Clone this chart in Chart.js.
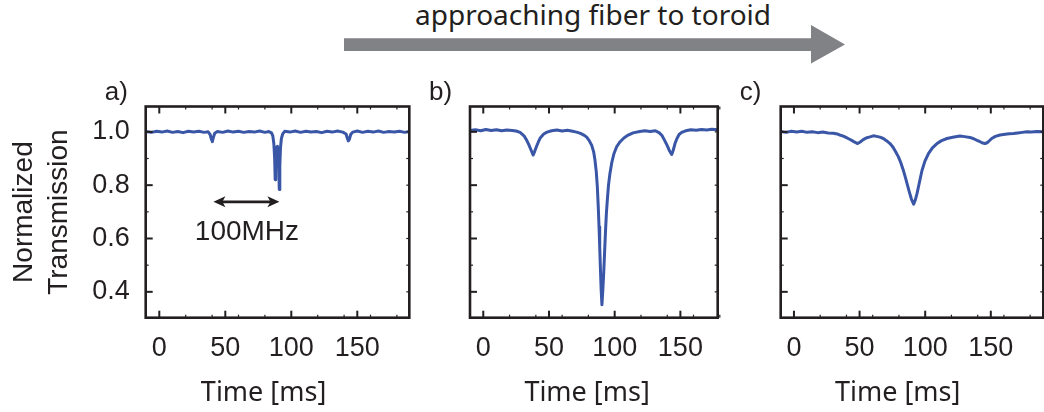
<!DOCTYPE html>
<html>
<head>
<meta charset="utf-8">
<script src="https://cdn.jsdelivr.net/npm/chart.js@4.4.1/dist/chart.umd.min.js"></script>
<style>
  html, body { margin: 0; padding: 0; background: #fff; }
  body { position: relative; width: 1044px; height: 412px; overflow: hidden; }
  canvas { position: absolute; top: 60px; }
  #header { position: absolute; left: 0; top: 0; }
</style>
</head>
<body>
<svg id="header" width="1044" height="70">
  <text x="415" y="25" font-family="Noto Sans" font-size="28" fill="#231f20">approaching fiber to toroid</text>
  <polygon points="344,38.3 811,38.3 811,25 845,44.5 811,63.5 811,51 344,51" fill="#808285"/>
</svg>
<canvas id="panelA" width="420" height="352" style="left:0"></canvas>
<canvas id="panelB" width="315" height="352" style="left:420px"></canvas>
<canvas id="panelC" width="315" height="352" style="left:735px"></canvas>
<script>
"use strict";

// --- data (time in ms, normalized transmission) ---
const timeA = [
  -10.3, -6, -2, 2, 6, 10, 14, 18, 22, 26,
  30, 34, 37, 38.5, 39.5, 40.2, 41, 42, 44, 48,
  52, 56, 60, 64, 68, 72, 76, 80, 83, 85,
  86, 86.8, 87.4, 87.8, 88.2, 88.8, 89.5, 90.2, 90.6, 90.9,
  91.3, 91.8, 92.5, 93.5, 95, 99, 103, 107, 111, 115,
  119, 123, 127, 131, 135, 139, 141.5, 142.5, 143.2, 144,
  145, 146.5, 150, 154, 158, 162, 166, 170, 174, 178,
  182, 186, 189.4
];
const transA = [
  1.001, 0.998, 1.002, 0.999, 1.003, 0.998, 1.001, 0.997, 1.002, 0.999,
  1.002, 0.998, 1.000, 0.990, 0.972, 0.963, 0.980, 0.995, 1.001, 0.998,
  1.003, 0.999, 1.002, 0.998, 1.001, 0.999, 1.003, 0.998, 1.001, 0.996,
  0.985, 0.955, 0.900, 0.820, 0.900, 0.940, 0.946, 0.920, 0.850, 0.784,
  0.870, 0.940, 0.975, 0.992, 1.002, 0.999, 1.003, 0.998, 1.002, 0.999,
  1.001, 0.997, 1.002, 0.999, 1.003, 0.999, 0.992, 0.975, 0.966, 0.972,
  0.990, 0.999, 1.003, 0.998, 1.002, 0.999, 1.003, 0.998, 1.001, 0.999,
  1.002, 0.998, 1.001
];

const timeB = [
  -10.1, -6, -2, 2, 6, 10, 14, 18, 22, 25,
  28, 31, 33, 35, 36.5, 38, 39, 40.5, 42, 43.5,
  46, 48.5, 52, 56, 60, 64, 68, 71, 74, 76.5,
  78.7, 80.5, 82.5, 84, 85, 86, 86.8, 87.5, 88.1, 88.6,
  89.1, 89.7, 90.3, 90.9, 91.6, 92.3, 93.0, 93.7, 94.4, 95.3,
  96.4, 97.8, 99.5, 101.5, 104, 107, 110.3, 114, 119, 123,
  127, 131, 134, 136, 138, 140, 141.8, 143.4, 144.5, 145.9,
  147.5, 149, 151, 154, 158, 162, 166, 170, 174, 178.4
];
const transB = [
  1.005, 1.008, 1.004, 1.009, 1.005, 1.008, 1.004, 1.007, 1.005, 1.003,
  0.998, 0.985, 0.969, 0.948, 0.930, 0.913, 0.925, 0.945, 0.963, 0.978,
  0.992, 0.999, 1.004, 1.007, 1.003, 1.006, 1.002, 0.999, 0.994, 0.988,
  0.980, 0.968, 0.950, 0.925, 0.894, 0.850, 0.794, 0.720, 0.644, 0.570,
  0.494, 0.410, 0.352, 0.400, 0.465, 0.545, 0.625, 0.695, 0.744, 0.800,
  0.844, 0.885, 0.919, 0.944, 0.962, 0.977, 0.988, 0.996, 1.001, 1.004,
  1.001, 1.004, 0.996, 0.986, 0.968, 0.948, 0.928, 0.915, 0.930, 0.956,
  0.976, 0.990, 0.998, 1.004, 1.008, 1.006, 1.009, 1.007, 1.010, 1.008
];

const timeC = [
  -10.1, -6, -2, 2, 6, 10, 14, 18, 22, 26,
  30, 33, 35.5, 37.6, 40, 42, 44, 46, 48.5, 50.5,
  52.8, 55, 57.9, 60.5, 63, 65.5, 68.1, 70.5, 73.2, 75.5,
  77.5, 79.6, 81.5, 83.2, 84.8, 86.5, 88, 89.5, 91.2, 92.5,
  93.8, 95.5, 97.6, 99.8, 102.6, 105.5, 109, 112.5, 116.6, 121,
  126.5, 130, 134.1, 137, 139.5, 141.8, 143.7, 145.6, 147.5, 150.7,
  153.5, 157, 161, 164, 167.2, 170.5, 174, 177.4, 181, 185,
  190
];
const transC = [
  1.001, 0.998, 1.002, 0.999, 1.002, 0.998, 1.000, 0.997, 0.999, 0.996,
  0.995, 0.992, 0.987, 0.984, 0.978, 0.973, 0.968, 0.962, 0.956, 0.962,
  0.971, 0.977, 0.981, 0.985, 0.983, 0.980, 0.975, 0.967, 0.956, 0.942,
  0.925, 0.906, 0.883, 0.858, 0.831, 0.800, 0.773, 0.748, 0.729, 0.745,
  0.769, 0.808, 0.856, 0.890, 0.919, 0.940, 0.956, 0.967, 0.975, 0.980,
  0.984, 0.982, 0.979, 0.974, 0.968, 0.963, 0.958, 0.956, 0.960, 0.975,
  0.983, 0.988, 0.991, 0.993, 0.994, 0.996, 0.998, 1.000, 0.999, 1.001,
  1.000
];

// --- axes ---
const xMajorTicks = [0, 50, 100, 150];
const xMinorTicks = [20, 40, 60, 80, 120, 140, 160, 180];
const yMajorTicks = [0.4, 0.6, 0.8, 1.0];
const yMinorTicks = [0.5, 0.7, 0.9];
const yRightTicks = [0.4, 0.5, 0.6, 0.7, 0.8, 0.9, 1.0];
const yTitleLines = ["Normalized", "Transmission"];
const xTitle = "Time [ms]";
const xTitleAt = 79;

// 100 MHz marker in panel a (data units)
const spanFrom = 41;
const spanTo = 91;
const spanLevel = 0.7375;
const spanText = "100MHz";
const spanTextAt = 66.4;
const spanTextLevel = 0.594;

const INK = "#231f20";
const TRACE = "#3a56a6";
const SANS = '"Liberation Sans", Arial, Helvetica, sans-serif';

function pairs(times, values) {
  return times.map((t, i) => ({ x: t, y: values[i] }));
}

const boxPlugin = {
  id: "box",
  afterDatasetsDraw(chart) {
    const { ctx, chartArea: a, scales: { x, y } } = chart;
    const seg = (x0, y0, x1, y1) => {
      ctx.beginPath(); ctx.moveTo(x0, y0); ctx.lineTo(x1, y1); ctx.stroke();
    };
    ctx.save();
    ctx.strokeStyle = INK;
    ctx.lineWidth = 2;
    xMajorTicks.forEach((v) => {
      const p = x.getPixelForValue(v);
      seg(p, a.bottom, p, a.bottom - 7);
      seg(p, a.top, p, a.top + 7);
    });
    yMajorTicks.forEach((v) => {
      const p = y.getPixelForValue(v);
      seg(a.left, p, a.left + 7, p);
    });
    ctx.lineWidth = 1.2;
    xMinorTicks.forEach((v) => {
      const p = x.getPixelForValue(v);
      seg(p, a.bottom, p, a.bottom - 3);
      seg(p, a.top, p, a.top + 3);
    });
    yMinorTicks.forEach((v) => {
      const p = y.getPixelForValue(v);
      seg(a.left, p, a.left + 3, p);
    });
    yRightTicks.forEach((v) => {
      const p = y.getPixelForValue(v);
      seg(a.right, p, a.right - 3, p);
    });
    ctx.lineWidth = 2.6;
    ctx.strokeRect(a.left, a.top, a.right - a.left, a.bottom - a.top);
    ctx.restore();
  },
  afterDraw(chart, args, opts) {
    const { ctx, chartArea: a, scales: { x } } = chart;
    ctx.save();
    ctx.fillStyle = INK;
    ctx.textBaseline = "alphabetic";
    ctx.textAlign = "left";
    ctx.font = "26px " + SANS;
    ctx.fillText(opts.label, a.left - 41, a.top - 7);
    ctx.textAlign = "center";
    ctx.font = '27px "Noto Sans", "Open Sans", sans-serif';
    ctx.fillText(xTitle, x.getPixelForValue(xTitleAt), a.bottom + 83);
    ctx.restore();
  },
};

const spanPlugin = {
  id: "span",
  afterDatasetsDraw(chart) {
    const { ctx, scales: { x, y } } = chart;
    const x0 = x.getPixelForValue(spanFrom);
    const x1 = x.getPixelForValue(spanTo);
    const yy = y.getPixelForValue(spanLevel);
    ctx.save();
    ctx.strokeStyle = INK;
    ctx.fillStyle = INK;
    ctx.lineWidth = 2.6;
    ctx.beginPath(); ctx.moveTo(x0 + 8, yy); ctx.lineTo(x1 - 8, yy); ctx.stroke();
    ctx.beginPath();
    ctx.moveTo(x0, yy); ctx.lineTo(x0 + 12, yy - 5.5); ctx.lineTo(x0 + 9, yy); ctx.lineTo(x0 + 12, yy + 5.5);
    ctx.closePath(); ctx.fill();
    ctx.beginPath();
    ctx.moveTo(x1, yy); ctx.lineTo(x1 - 12, yy - 5.5); ctx.lineTo(x1 - 9, yy); ctx.lineTo(x1 - 12, yy + 5.5);
    ctx.closePath(); ctx.fill();
    ctx.font = "28px " + SANS;
    ctx.textAlign = "center";
    ctx.textBaseline = "alphabetic";
    ctx.fillText(spanText, x.getPixelForValue(spanTextAt), y.getPixelForValue(spanTextLevel));
    ctx.restore();
  },
};

function buildPanel(id, cfg) {
  return new Chart(document.getElementById(id), {
    type: "line",
    data: {
      datasets: [{
        data: pairs(cfg.times, cfg.values),
        borderColor: TRACE,
        borderWidth: 3,
        borderJoinStyle: "round",
        pointRadius: 0,
        tension: 0,
        fill: false,
      }],
    },
    options: {
      responsive: false,
      animation: false,
      events: [],
      layout: { padding: { left: 0, right: cfg.padRight, top: 46.5, bottom: 0 } },
      scales: {
        x: {
          type: "linear",
          min: cfg.xMin,
          max: cfg.xMax,
          grid: { display: false, drawTicks: false },
          border: { display: false },
          afterBuildTicks: (s) => { s.ticks = xMajorTicks.map((v) => ({ value: v })); },
          afterFit: (s) => { s.height = 94.3; },
          ticks: {
            padding: 15, color: INK, maxRotation: 0, autoSkip: false,
            font: { family: SANS, size: 27 },
            callback: (v) => String(v),
          },
        },
        y: {
          type: "linear",
          min: 0.303,
          max: 1.095,
          grid: { display: false, drawTicks: false },
          border: { display: false },
          afterBuildTicks: (s) => { s.ticks = yMajorTicks.map((v) => ({ value: v })); },
          afterFit: (s) => { s.width = cfg.yWidth; },
          ticks: {
            display: cfg.yLabels, padding: 16, color: INK,
            font: { family: SANS, size: 27 },
            callback: (v) => Number(v).toFixed(1),
          },
          title: {
            display: cfg.yLabels,
            text: yTitleLines,
            color: INK,
            font: { family: SANS, size: 28, lineHeight: 1.25 },
            padding: { top: 6.5, bottom: 0 },
          },
        },
      },
      plugins: {
        legend: { display: false },
        tooltip: { enabled: false },
        box: { label: cfg.label },
      },
    },
    plugins: [boxPlugin].concat(cfg.extra || []),
  });
}

buildPanel("panelA", {
  times: timeA, values: transA, label: "a)",
  xMin: -10.3, xMax: 189.4, yWidth: 145.7, padRight: 10.7, yLabels: true,
  extra: [spanPlugin],
});
buildPanel("panelB", {
  times: timeB, values: transB, label: "b)",
  xMin: -10.1, xMax: 178.4, yWidth: 50, padRight: 17.3, yLabels: false,
});
buildPanel("panelC", {
  times: timeC, values: transC, label: "c)",
  xMin: -10.1, xMax: 190, yWidth: 45.7, padRight: 6.7, yLabels: false,
});
</script>
</body>
</html>
